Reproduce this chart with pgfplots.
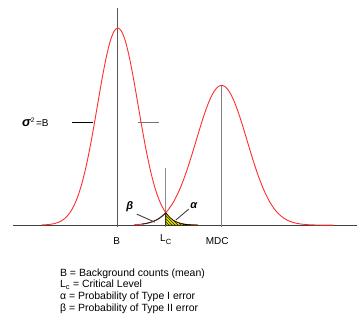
\documentclass[border=0pt]{standalone}
\usepackage{fontspec}
\setmainfont{Liberation Sans}
\usepackage{pgfplots}
\pgfplotsset{compat=1.18}
\usepackage{pgfplotstable}
\usetikzlibrary{patterns}
\definecolor{cred}{RGB}{255,45,45}
\definecolor{hatchy}{RGB}{225,225,0}
\pgfplotstableread{
x y
42 0.19
46 0.39
50 0.76
54 1.44
58 2.61
62 4.56
66 7.67
70 12.4
74 19.3
78 28.9
82 41.6
86 57.7
90 77.0
94 98.9
98 122.1
102 145.2
106 166.1
110 182.9
114 193.7
118 197.5
122 193.7
126 182.9
130 166.1
134 145.2
138 122.1
142 98.9
146 77.0
150 57.7
154 41.6
158 28.9
162 19.3
166 12.4
170 7.67
174 4.56
178 2.61
182 1.44
186 0.76
190 0.39
194 0.19
198 0.09
}\leftcurve
\pgfplotstableread{
x y
134 0.35
138 0.60
142 1.00
146 1.61
150 2.55
154 3.93
158 5.91
162 8.67
166 12.4
170 17.3
174 23.6
178 31.4
182 40.7
186 51.4
190 63.5
194 76.4
198 89.7
202 102.8
206 114.9
210 125.3
214 133.2
218 138.3
222 140.0
226 138.3
230 133.2
234 125.3
238 114.9
242 102.8
246 89.7
250 76.4
254 63.5
258 51.4
262 40.7
266 31.4
270 23.6
274 17.3
278 12.4
282 8.67
286 5.91
290 3.93
294 2.55
298 1.61
302 1.00
306 0.60
310 0.35
314 0.20
318 0.11
322 0.06
326 0.03
330 0.02
334 0.01
}\rightcurve
\begin{document}
\begin{tikzpicture}
\begin{axis}[scale only axis, width=358bp, height=322bp,
  xmin=0, xmax=358, ymin=-96.5, ymax=225.5, hide axis, clip=false]
\path (axis cs:0,-96.5) rectangle (axis cs:358,225.5);
% reference lines
\draw[line width=1.2bp, black!75] (axis cs:13,0) -- (axis cs:358,0);
\draw[line width=1.2bp, black!65] (axis cs:118,-1.5) -- (axis cs:118,217.5);
\draw[line width=1bp, black!45] (axis cs:166,-1.5) -- (axis cs:166,57.5);
\draw[line width=1bp, black!50] (axis cs:222,-1.5) -- (axis cs:222,140);
% curves
\addplot[cred, line width=0.9bp, smooth] table {\leftcurve};
\addplot[cred, line width=0.9bp, smooth] table {\rightcurve};
% shaded regions
\addplot[draw=black, fill=hatchy, line width=0.6bp] table[restrict x to domain=166:198] {\leftcurve} \closedcycle;
\addplot[draw=none, pattern=north west lines, pattern color=black] table[restrict x to domain=166:198] {\leftcurve} \closedcycle;
\addplot[draw=black!85, line width=0.9bp, smooth] table[restrict x to domain=140:166] {\rightcurve};
% alpha / beta labels
\node[font=\fontsize{11bp}{11bp}\selectfont\bfseries\itshape] at (axis cs:130,18.5) {β};
\draw[black!75, line width=0.9bp] (axis cs:137,11) -- (axis cs:155,3);
\node[font=\fontsize{11bp}{11bp}\selectfont\bfseries\itshape] at (axis cs:194,19.5) {α};
\draw[black!75, line width=0.9bp] (axis cs:189,16) -- (axis cs:176,5);
% sigma^2 = B
\node[anchor=west, inner sep=0pt, font=\fontsize{10bp}{10bp}\selectfont] at (axis cs:22,102.5)
  {{\fontsize{13bp}{13bp}\selectfont\bfseries\itshape σ}\raisebox{4bp}{\fontsize{6.5bp}{6.5bp}\selectfont 2}\,=B};
\draw[black, line width=1bp] (axis cs:72,103) -- (axis cs:93,103);
\draw[black!55, line width=1bp] (axis cs:138,103) -- (axis cs:159,103);
% tick-like labels
\node[anchor=base, inner sep=0pt, font=\fontsize{10bp}{10bp}\selectfont] at (axis cs:117,-19.8) {B};
\node[anchor=base, inner sep=0pt, font=\fontsize{10bp}{10bp}\selectfont] at (axis cs:166,-16.4) {L\raisebox{-3.3bp}{\fontsize{7.5bp}{7.5bp}\selectfont C}};
\node[anchor=base, inner sep=0pt, font=\fontsize{10bp}{10bp}\selectfont] at (axis cs:217.5,-19.8) {MDC};
% explanation
\node[anchor=base west, inner sep=0pt, font=\fontsize{10.5bp}{10.5bp}\selectfont] at (axis cs:60,-51) {B = Background counts (mean)};
\node[anchor=base west, inner sep=0pt, font=\fontsize{10.5bp}{10.5bp}\selectfont] at (axis cs:60,-62.7) {L\textsubscript{c} = Critical Level};
\node[anchor=base west, inner sep=0pt, font=\fontsize{10.5bp}{10.5bp}\selectfont] at (axis cs:60,-74.4) {α = Probability of Type I error};
\node[anchor=base west, inner sep=0pt, font=\fontsize{10.5bp}{10.5bp}\selectfont] at (axis cs:60,-86.1) {β = Probability of Type II error};
\end{axis}
\end{tikzpicture}
\end{document}
